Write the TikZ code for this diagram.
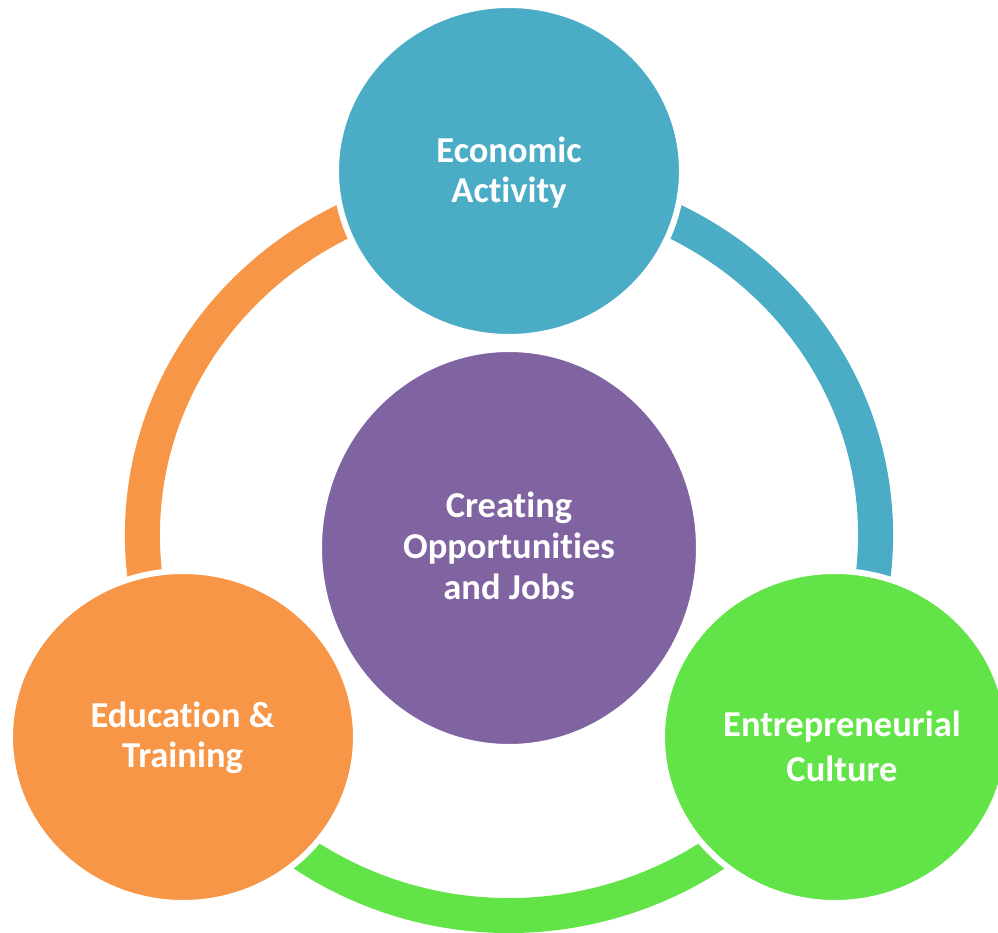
\documentclass[tikz,border=0pt]{standalone}
\usepackage{fontspec}
\setmainfont{Carlito}[Ligatures=NoCommon]
\usetikzlibrary{shapes.geometric}
\definecolor{cteal}{HTML}{4BACC6}
\definecolor{cpurple}{HTML}{8064A2}
\definecolor{corange}{HTML}{F79646}
\definecolor{cgreen}{HTML}{62E348}
\begin{document}
\begin{tikzpicture}[x=1pt,y=-1pt,
  bubble/.style={ellipse, draw=white, line width=6pt, inner sep=0pt,
    minimum width=346pt, minimum height=332pt},
  lbl/.style={text=white, font=\bfseries\fontsize{36.5}{40}\selectfont,
    align=center, anchor=base, inner sep=0pt},
  band/.style={line width=35pt}]
\useasboundingbox (0,0) rectangle (998,933);
% connecting arcs
\coordinate (ringc) at (509,535);
\coordinate (ringg) at (509,569);
\draw[band, corange] (ringc) ++(270:366.6 and 351.5)
  arc[start angle=270, end angle=147.1, x radius=366.6, y radius=351.5];
\draw[band, cteal] (ringc) ++(270:366.6 and 351.5)
  arc[start angle=270, end angle=392.9, x radius=366.6, y radius=351.5];
\draw[band, cgreen] (ringg) ++(28.3:361.4 and 346.5)
  arc[start angle=28.3, end angle=151.7, x radius=361.4, y radius=346.5];
% circles
\node[bubble, fill=cteal] (econ) at (509,171) {};
\node[bubble, fill=corange] (edu) at (183,737) {};
\node[bubble, fill=cgreen] (entr) at (835,737) {};
\node[bubble, fill=cpurple, minimum width=380pt, minimum height=398pt] (core) at (509,548) {};
% labels (anchor base = baseline of last line)
\node[lbl] (econ-t) at (509,202.3) {Economic\\Activity};
\node[lbl, font=\bfseries\fontsize{36.5}{41}\selectfont] (core-t) at (509,599) {Creating\\Opportunities\\and Jobs};
\node[lbl] (edu-t) at (182.5,767) {Education \&\\Training};
\node[lbl, font=\bfseries\fontsize{36.5}{45}\selectfont] (entr-t) at (842,781) {Entrepreneurial\\Culture};
\end{tikzpicture}
\end{document}
